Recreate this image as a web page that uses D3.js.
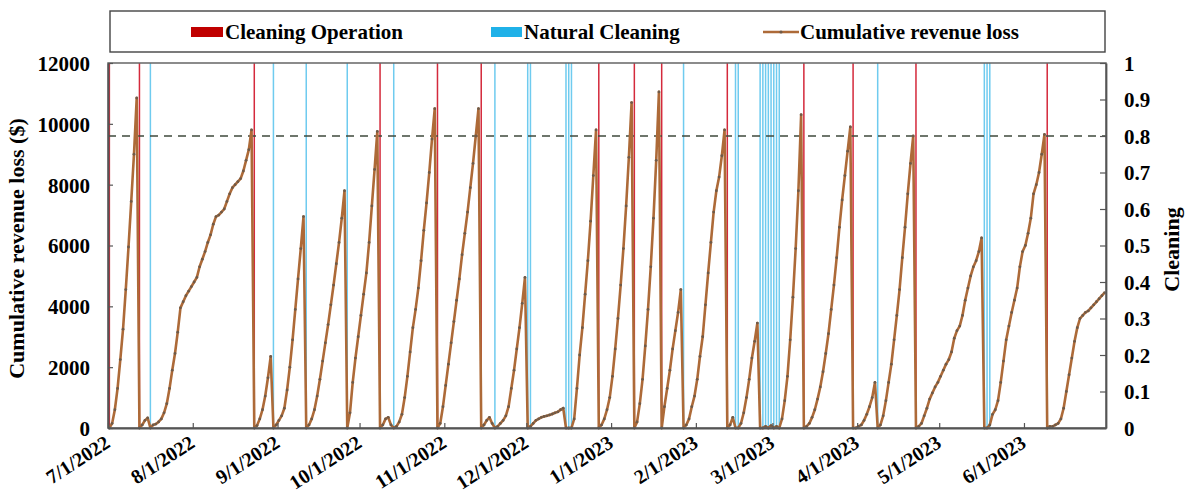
<!DOCTYPE html>
<html>
<head>
<meta charset="utf-8">
<script src="https://cdn.jsdelivr.net/npm/d3@7"></script>
<style>
  body { margin: 0; background: #fff; }
  svg text { font-family: "Liberation Serif", "Times New Roman", serif; font-weight: bold; fill: #000; }
</style>
</head>
<body>
<div id="chart"></div>
<script>
// daily cumulative revenue loss ($), one value per day starting 7/1/2022
const startDate = "2022-07-01";
const endDate = "2023-07-01";
const revenueLoss = [
  0, 150, 600, 1300, 2250, 3250, 4550, 5950, 7450, 9000,
  10850, 0, 100, 250, 330, 0, 100, 130, 200, 300,
  500, 800, 1300, 1900, 2450, 3150, 3950, 4150, 4350, 4500,
  4650, 4800, 4950, 5300, 5550, 5800, 6100, 6350, 6700, 6950,
  7000, 7100, 7200, 7450, 7700, 7900, 8000, 8100, 8200, 8450,
  8800, 9150, 9800, 0, 80, 300, 600, 1050, 1650, 2350,
  0, 100, 250, 400, 650, 1250, 2000, 2900, 3900, 4900,
  5900, 6950, 0, 100, 300, 600, 1050, 1600, 2200, 2800,
  3400, 4050, 4700, 5400, 6100, 6900, 7800, 0, 500, 1500,
  2300, 3000, 3700, 4400, 5100, 6100, 7300, 8500, 9750, 0,
  100, 300, 350, 100, 0, 50, 200, 450, 1000, 1700,
  2500, 3300, 3900, 4600, 5500, 6500, 7400, 8400, 9500, 10500,
  0, 150, 700, 1400, 2100, 2800, 3500, 4200, 4900, 5700,
  6400, 7100, 7900, 8700, 9600, 10500, 0, 100, 250, 350,
  150, 0, 50, 150, 250, 400, 700, 1300, 1900, 2600,
  3300, 4100, 4950, 0, 50, 150, 250, 300, 350, 380,
  400, 430, 460, 500, 530, 600, 650, 0, 0, 0,
  300, 1300, 2400, 3300, 4400, 5500, 6800, 8300, 9800, 0,
  100, 300, 600, 1000, 1700, 2600, 3600, 4700, 5900, 7300,
  8900, 10700, 0, 200, 800, 1600, 2700, 3900, 5300, 6900,
  8800, 11050, 0, 700, 1300, 1900, 2600, 3200, 3800, 4550,
  0, 100, 300, 700, 1050, 1600, 2350, 3000, 4050, 5100,
  6100, 7100, 7800, 8250, 8950, 9800, 0, 100, 350, 0,
  0, 150, 500, 1000, 1600, 2300, 2850, 3450, 0, 0,
  50, 0, 80, 0, 50, 0, 300, 900, 1700, 2900,
  4300, 5900, 7800, 10300, 0, 50, 150, 350, 600, 950,
  1350, 1850, 2450, 3100, 3900, 4700, 5600, 6600, 7500, 8300,
  9100, 9900, 0, 0, 50, 100, 250, 450, 700, 1000,
  1500, 0, 100, 400, 900, 1500, 2100, 2900, 3700, 4550,
  5600, 6600, 7700, 8700, 9600, 0, 50, 150, 400, 650,
  950, 1150, 1350, 1500, 1700, 1900, 2100, 2250, 2500, 2950,
  3200, 3350, 3700, 4200, 4600, 5000, 5300, 5500, 5800, 6250,
  0, 0, 100, 450, 600, 900, 1500, 2200, 2900, 3350,
  3800, 4200, 4600, 5300, 5800, 6000, 6400, 6900, 7700, 8000,
  8400, 9000, 9650, 0, 50, 50, 100, 150, 300, 650,
  1200, 1750, 2300, 2850, 3300, 3600, 3700, 3800, 3850, 3950,
  4050, 4150, 4250, 4350, 4450
];

// days with a cleaning event (value 1 on the right axis)
const cleaningOperation = [
  "2022-07-01", "2022-07-12", "2022-08-23", "2022-10-08", "2022-10-29", "2022-11-14",
  "2022-12-27", "2023-01-09", "2023-01-19", "2023-02-12", "2023-03-12", "2023-03-30",
  "2023-04-22", "2023-06-09"
];
const naturalCleaning = [
  "2022-07-16", "2022-08-30", "2022-09-11", "2022-09-26", "2022-10-13", "2022-11-19",
  "2022-12-01", "2022-12-02", "2022-12-15", "2022-12-16", "2022-12-17", "2023-01-27",
  "2023-02-15", "2023-02-16", "2023-02-24", "2023-02-25", "2023-02-26", "2023-02-27",
  "2023-02-28", "2023-03-01", "2023-03-02", "2023-03-03", "2023-04-08", "2023-05-17",
  "2023-05-18", "2023-05-19"
];

const monthTicks = [
  "2022-07-01", "2022-08-01", "2022-09-01", "2022-10-01", "2022-11-01", "2022-12-01",
  "2023-01-01", "2023-02-01", "2023-03-01", "2023-04-01", "2023-05-01", "2023-06-01"
];
const lossTicks = [0, 2000, 4000, 6000, 8000, 10000, 12000];
const cleaningTicks = [0, 0.1, 0.2, 0.3, 0.4, 0.5, 0.6, 0.7, 0.8, 0.9, 1];
const threshold = 0.8; // dashed reference line, right axis

const W = 1186, H = 504;
const plot = { left: 108, right: 1106, top: 63, bottom: 428 };

const parse = d3.timeParse("%Y-%m-%d");
const fmt = d3.timeFormat("%-m/%-d/%Y");
const t0 = parse(startDate);

const svg = d3.select("#chart").append("svg")
    .attr("width", W)
    .attr("height", H);

const x = d3.scaleTime()
    .domain([t0, parse(endDate)])
    .range([plot.left, plot.right]);
const y = d3.scaleLinear().domain([0, 12000]).range([plot.bottom, plot.top]);
const y2 = d3.scaleLinear().domain([0, 1]).range([plot.bottom, plot.top]);

const slot = x(d3.timeDay.offset(t0, 1)) - x(t0);
const mid = d => x(d) + slot / 2;

const series = revenueLoss.map((v, i) => ({ date: d3.timeDay.offset(t0, i), value: v }));

// bars for the cleaning events
const barW = slot * 0.55;
svg.append("g").selectAll("rect")
    .data(naturalCleaning.map(parse))
    .enter().append("rect")
    .attr("x", d => mid(d) - barW / 2)
    .attr("y", y2(1))
    .attr("width", barW)
    .attr("height", y2(0) - y2(1))
    .attr("fill", "#6fcbef");

svg.append("g").selectAll("rect")
    .data(cleaningOperation.map(parse))
    .enter().append("rect")
    .attr("x", d => mid(d) - barW / 2)
    .attr("y", y2(1))
    .attr("width", barW)
    .attr("height", y2(0) - y2(1))
    .attr("fill", "#d42a3c");

// threshold line
svg.append("line")
    .attr("x1", plot.left).attr("x2", plot.right)
    .attr("y1", y2(threshold)).attr("y2", y2(threshold))
    .attr("stroke", "#3f4a3c")
    .attr("stroke-width", 1.6)
    .attr("stroke-dasharray", "8,6");

// cumulative loss line with markers
const line = d3.line()
    .x(d => mid(d.date))
    .y(d => y(d.value));

svg.append("path")
    .datum(series)
    .attr("fill", "none")
    .attr("stroke", "#ad6a38")
    .attr("stroke-width", 2.6)
    .attr("stroke-linejoin", "round")
    .attr("d", line);

svg.append("g").selectAll("circle")
    .data(series)
    .enter().append("circle")
    .attr("cx", d => mid(d.date))
    .attr("cy", d => y(d.value))
    .attr("r", 1.4)
    .attr("fill", "#6e5a48");

// plot frame
svg.append("rect")
    .attr("x", plot.left).attr("y", plot.top)
    .attr("width", plot.right - plot.left)
    .attr("height", plot.bottom - plot.top)
    .attr("fill", "none")
    .attr("stroke", "#666")
    .attr("stroke-width", 1.5);

// axes
const styleAxis = g => {
    g.select(".domain").attr("stroke", "#555").attr("stroke-width", 1.8);
    g.selectAll(".tick line").attr("stroke", "#555").attr("stroke-width", 1.2);
    g.selectAll("text").style("font-size", "21px").attr("fill", "#000");
};

svg.append("g")
    .attr("transform", `translate(${plot.left},0)`)
    .call(d3.axisLeft(y).tickValues(lossTicks).tickSize(-5).tickSizeOuter(0).tickPadding(18)
        .tickFormat(d3.format("d")))
    .call(styleAxis)
    .call(g => g.selectAll("text").attr("dy", "0.35em"));

svg.append("g")
    .attr("transform", `translate(${plot.right},0)`)
    .call(d3.axisRight(y2).tickValues(cleaningTicks).tickSize(-6).tickSizeOuter(0).tickPadding(18)
        .tickFormat(d => d3.format("")(+d.toFixed(1))))
    .call(styleAxis)
    .call(g => g.selectAll("text").attr("dy", "0.35em"));

svg.append("g")
    .attr("transform", `translate(0,${plot.bottom})`)
    .call(d3.axisBottom(x).tickValues(monthTicks.map(parse)).tickSize(-5).tickSizeOuter(0).tickFormat(fmt))
    .call(styleAxis)
    .call(g => g.selectAll("text")
        .style("font-size", "20px")
        .attr("text-anchor", "end")
        .attr("dy", 0)
        .attr("y", 0)
        .attr("transform", "translate(3,18) rotate(-33)"));

// axis titles
svg.append("text")
    .attr("transform", `translate(24,${(plot.top + plot.bottom) / 2 + 3}) rotate(-90)`)
    .attr("text-anchor", "middle")
    .style("font-size", "22px")
    .text("Cumulative revenue loss ($)");

svg.append("text")
    .attr("transform", `translate(1179,${(plot.top + plot.bottom) / 2 + 4}) rotate(-90)`)
    .attr("text-anchor", "middle")
    .style("font-size", "22px")
    .text("Cleaning");

// legend
const legend = svg.append("g");
legend.append("rect")
    .attr("x", 110).attr("y", 11)
    .attr("width", 995).attr("height", 41)
    .attr("fill", "#fff")
    .attr("stroke", "#444")
    .attr("stroke-width", 1.4);

const legendY = 32;
legend.append("rect").attr("x", 191).attr("y", legendY - 5).attr("width", 32).attr("height", 10).attr("fill", "#c00000");
legend.append("text").attr("x", 225).attr("y", legendY + 7).style("font-size", "21px").text("Cleaning Operation");

legend.append("rect").attr("x", 491).attr("y", legendY - 5).attr("width", 31).attr("height", 10).attr("fill", "#1fb1e8");
legend.append("text").attr("x", 524).attr("y", legendY + 7).style("font-size", "21px").text("Natural Cleaning");

legend.append("line").attr("x1", 763).attr("x2", 799).attr("y1", legendY).attr("y2", legendY)
    .attr("stroke", "#ad6a38").attr("stroke-width", 2.4);
legend.append("circle").attr("cx", 781).attr("cy", legendY).attr("r", 1.6).attr("fill", "#6e5a48");
legend.append("text").attr("x", 800).attr("y", legendY + 7).style("font-size", "21px").text("Cumulative revenue loss");
</script>
</body>
</html>
